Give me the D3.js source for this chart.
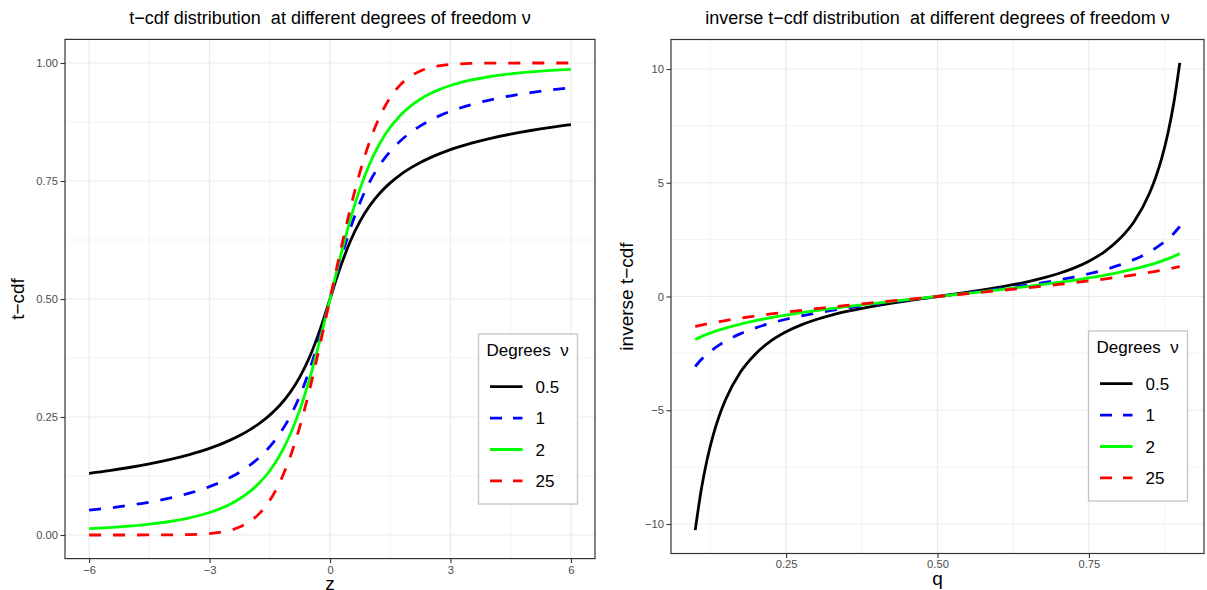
<!DOCTYPE html>
<html>
<head>
<meta charset="utf-8">
<script src="https://cdn.jsdelivr.net/npm/d3@7"></script>
<style>
  html, body { margin: 0; padding: 0; background: #ffffff; }
  svg { display: block; }
  text { font-family: "Liberation Sans", Arial, Helvetica, sans-serif; }
</style>
</head>
<body>
<svg id="chart" width="1207" height="590"></svg>
<script>
// ---- data -----------------------------------------------------------------
// degrees of freedom shown in both panels
const degrees = ["0.5", "1", "2", "25"];
const seriesColors = ["#000000", "#0000FF", "#00FF00", "#FF0000"];
const seriesDashed = [false, true, false, true];

// left panel: z grid and t-cdf values per degree of freedom
const zValues = [-6, -5.5, -5, -4.5, -4, -3.5, -3, -2.75, -2.5, -2.25, -2, -1.75, -1.5, -1.25, -1, -0.75, -0.5, -0.25,
  0, 0.25, 0.5, 0.75, 1, 1.25, 1.5, 1.75, 2, 2.25, 2.5, 2.75, 3, 3.5, 4, 4.5, 5, 5.5, 6];
const cdfNu05 = [0.1307, 0.1364, 0.1430, 0.1506, 0.1596, 0.1704, 0.1836, 0.1915, 0.2005, 0.2108, 0.2228, 0.2369, 0.2540, 0.2749, 0.3011, 0.3349, 0.3787, 0.4346,
  0.5, 0.5654, 0.6213, 0.6651, 0.6989, 0.7251, 0.7460, 0.7631, 0.7772, 0.7892, 0.7995, 0.8085, 0.8164, 0.8296, 0.8404, 0.8494, 0.8570, 0.8636, 0.8693];
const cdfNu1 = [0.0526, 0.0572, 0.0628, 0.0696, 0.0780, 0.0886, 0.1024, 0.1110, 0.1211, 0.1331, 0.1476, 0.1652, 0.1872, 0.2148, 0.2500, 0.2952, 0.3524, 0.4220,
  0.5, 0.5780, 0.6476, 0.7048, 0.7500, 0.7852, 0.8128, 0.8348, 0.8524, 0.8669, 0.8789, 0.8890, 0.8976, 0.9114, 0.9220, 0.9304, 0.9372, 0.9428, 0.9474];
const cdfNu2 = [0.0133, 0.0157, 0.0189, 0.0230, 0.0286, 0.0364, 0.0477, 0.0553, 0.0648, 0.0767, 0.0918, 0.1111, 0.1362, 0.1689, 0.2113, 0.2657, 0.3333, 0.4130,
  0.5, 0.5870, 0.6667, 0.7343, 0.7887, 0.8311, 0.8638, 0.8889, 0.9082, 0.9233, 0.9352, 0.9447, 0.9523, 0.9636, 0.9714, 0.9770, 0.9811, 0.9843, 0.9867];
const cdfNu25 = [0.0000, 0.0000, 0.0000, 0.0001, 0.0003, 0.0009, 0.0031, 0.0056, 0.0098, 0.0169, 0.0284, 0.0463, 0.0732, 0.1115, 0.1635, 0.2301, 0.3107, 0.4023,
  0.5, 0.5977, 0.6893, 0.7699, 0.8365, 0.8885, 0.9268, 0.9537, 0.9716, 0.9831, 0.9902, 0.9944, 0.9969, 0.9991, 0.9997, 0.9999, 1.0000, 1.0000, 1.0000];

// right panel: probability grid and quantiles per degree of freedom
const qValues = [0.10, 0.11, 0.12, 0.13, 0.14, 0.15, 0.175, 0.20, 0.225, 0.25, 0.275, 0.30, 0.325, 0.35, 0.375, 0.40, 0.425, 0.45, 0.475,
  0.50, 0.525, 0.55, 0.575, 0.60, 0.625, 0.65, 0.675, 0.70, 0.725, 0.75, 0.775, 0.80, 0.825, 0.85, 0.86, 0.87, 0.88, 0.89, 0.90];
const invNu05 = [-10.27, -8.482, -7.121, -6.061, -5.219, -4.538, -3.31, -2.513, -1.955, -1.553, -1.249, -1.011, -0.818, -0.656, -0.519, -0.399, -0.289, -0.1895, -0.0933,
  0, 0.0933, 0.1895, 0.289, 0.399, 0.519, 0.656, 0.818, 1.011, 1.249, 1.553, 1.955, 2.513, 3.31, 4.538, 5.219, 6.061, 7.121, 8.482, 10.27];
const invNu1 = [-3.0777, -2.7725, -2.5257, -2.3109, -2.1251, -1.9626, -1.6319, -1.3764, -1.1708, -1.0, -0.8541, -0.7265, -0.6128, -0.5095, -0.4142, -0.3249, -0.2401, -0.1584, -0.0787,
  0, 0.0787, 0.1584, 0.2401, 0.3249, 0.4142, 0.5095, 0.6128, 0.7265, 0.8541, 1.0, 1.1708, 1.3764, 1.6319, 1.9626, 2.1251, 2.3109, 2.5257, 2.7725, 3.0777];
const invNu2 = [-1.8856, -1.7627, -1.6537, -1.5559, -1.4673, -1.3862, -1.2096, -1.0607, -0.9313, -0.8165, -0.7126, -0.6172, -0.5284, -0.4448, -0.3651, -0.2887, -0.2146, -0.1421, -0.0708,
  0, 0.0708, 0.1421, 0.2146, 0.2887, 0.3651, 0.4448, 0.5284, 0.6172, 0.7126, 0.8165, 0.9313, 1.0607, 1.2096, 1.3862, 1.4673, 1.5559, 1.6537, 1.7627, 1.8856];
const invNu25 = [-1.3163, -1.2580, -1.2036, -1.1525, -1.1043, -1.0584, -0.9525, -0.8563, -0.7675, -0.6845, -0.6060, -0.5312, -0.4593, -0.3898, -0.3222, -0.2561, -0.1911, -0.1270, -0.0634,
  0, 0.0634, 0.1270, 0.1911, 0.2561, 0.3222, 0.3898, 0.4593, 0.5312, 0.6060, 0.6845, 0.7675, 0.8563, 0.9525, 1.0584, 1.1043, 1.1525, 1.2036, 1.2580, 1.3163];

// axis ticks and labels
const leftXTicks = [-6, -3, 0, 3, 6];
const leftXMinor = [-4.5, -1.5, 1.5, 4.5];
const leftYTicks = [0, 0.25, 0.5, 0.75, 1];
const leftYMinor = [0.125, 0.375, 0.625, 0.875];
const leftYLabels = ["0.00", "0.25", "0.50", "0.75", "1.00"];
const rightXTicks = [0.25, 0.5, 0.75];
const rightXMinor = [0.125, 0.375, 0.625, 0.875];
const rightXLabels = ["0.25", "0.50", "0.75"];
const rightYTicks = [-10, -5, 0, 5, 10];
const rightYMinor = [-7.5, -2.5, 2.5, 7.5];

// ---- drawing --------------------------------------------------------------
const svg = d3.select("#chart");
const fmtMinus = v => String(v).replace("-", "\u2212");

function drawPanel(cfg) {
  const x = d3.scaleLinear().domain(cfg.xDomain).range([cfg.x0, cfg.x1]);
  const y = d3.scaleLinear().domain(cfg.yDomain).range([cfg.y1, cfg.y0]);
  const g = svg.append("g");

  // background
  g.append("rect").attr("x", cfg.x0).attr("y", cfg.y0)
    .attr("width", cfg.x1 - cfg.x0).attr("height", cfg.y1 - cfg.y0).attr("fill", "#ffffff");

  // minor and major grid
  const grid = g.append("g").attr("stroke", "#EBEBEB").attr("fill", "none");
  cfg.xMinor.forEach(v => grid.append("line").attr("x1", x(v)).attr("x2", x(v))
    .attr("y1", cfg.y0).attr("y2", cfg.y1).attr("stroke-width", 0.6));
  cfg.yMinor.forEach(v => grid.append("line").attr("y1", y(v)).attr("y2", y(v))
    .attr("x1", cfg.x0).attr("x2", cfg.x1).attr("stroke-width", 0.6));
  cfg.xTicks.forEach(v => grid.append("line").attr("x1", x(v)).attr("x2", x(v))
    .attr("y1", cfg.y0).attr("y2", cfg.y1).attr("stroke-width", 1.2));
  cfg.yTicks.forEach(v => grid.append("line").attr("y1", y(v)).attr("y2", y(v))
    .attr("x1", cfg.x0).attr("x2", cfg.x1).attr("stroke-width", 1.2));

  // curves
  const line = d3.line().x(d => x(d[0])).y(d => y(d[1])).curve(d3.curveMonotoneX);
  cfg.series.forEach((vals, i) => {
    const pts = cfg.xs.map((xv, k) => [xv, vals[k]]);
    g.append("path").datum(pts)
      .attr("d", line)
      .attr("fill", "none")
      .attr("stroke", seriesColors[i])
      .attr("stroke-width", 2.8)
      .attr("stroke-linejoin", "round")
      .attr("stroke-dasharray", seriesDashed[i] ? "12 12" : null);
  });

  // panel border
  g.append("rect").attr("x", cfg.x0).attr("y", cfg.y0)
    .attr("width", cfg.x1 - cfg.x0).attr("height", cfg.y1 - cfg.y0)
    .attr("fill", "none").attr("stroke", "#333333").attr("stroke-width", 1.2);

  // axes
  const xAxis = d3.axisBottom(x).tickValues(cfg.xTicks).tickSize(4.5).tickPadding(2.5)
    .tickFormat((d, i) => cfg.xLabels[i]);
  const yAxis = d3.axisLeft(y).tickValues(cfg.yTicks).tickSize(4.5).tickPadding(2.5)
    .tickFormat((d, i) => cfg.yLabels[i]);
  const ax = g.append("g").attr("transform", `translate(0,${cfg.y1})`).call(xAxis);
  const ay = g.append("g").attr("transform", `translate(${cfg.x0},0)`).call(yAxis);
  [ax, ay].forEach(a => {
    a.select(".domain").remove();
    a.selectAll(".tick line").attr("stroke", "#333333").attr("stroke-width", 1.1);
    a.selectAll(".tick text").attr("fill", "#4D4D4D").attr("font-size", 11.2)
      .attr("font-family", "Liberation Sans, Arial, sans-serif");
  });

  // titles
  const cx = (cfg.x0 + cfg.x1) / 2, cy = (cfg.y0 + cfg.y1) / 2;
  g.append("text").attr("x", cx).attr("y", 24).attr("text-anchor", "middle")
    .attr("font-size", 18).attr("fill", "#000").style("white-space", "pre").text(cfg.title);
  g.append("text").attr("x", cx).attr("y", cfg.xTitleY).attr("text-anchor", "middle")
    .attr("font-size", 19).attr("fill", "#000").text(cfg.xTitle);
  g.append("text").attr("transform", `translate(${cfg.yTitleX},${cy}) rotate(-90)`)
    .attr("text-anchor", "middle").attr("font-size", 19).attr("fill", "#000").text(cfg.yTitle);

  // legend
  const lg = g.append("g").attr("transform", `translate(${cfg.legendX},${cfg.legendY})`);
  lg.append("rect").attr("x", 0).attr("y", 0).attr("width", 99).attr("height", 170)
    .attr("fill", "#ffffff").attr("stroke", "#C4C4C4").attr("stroke-width", 1.3);
  lg.append("text").attr("x", 8).attr("y", 22).attr("font-size", 17).style("white-space", "pre")
    .text("Degrees  \u03BD");
  degrees.forEach((d, i) => {
    const ry = 52.7 + i * 31.4;
    lg.append("line").attr("x1", 11.5).attr("x2", 44).attr("y1", ry).attr("y2", ry)
      .attr("stroke", seriesColors[i]).attr("stroke-width", 2.8)
      .attr("stroke-dasharray", seriesDashed[i] ? "12 11" : null);
    lg.append("text").attr("x", 57).attr("y", ry + 6).attr("font-size", 17).text(d);
  });
}

drawPanel({
  x0: 65, x1: 595, y0: 39.4, y1: 558.6,
  xDomain: [-6.6, 6.6], yDomain: [-0.05, 1.05],
  xs: zValues, series: [cdfNu05, cdfNu1, cdfNu2, cdfNu25],
  xTicks: leftXTicks, xMinor: leftXMinor, xLabels: leftXTicks.map(fmtMinus),
  yTicks: leftYTicks, yMinor: leftYMinor, yLabels: leftYLabels,
  title: "t\u2212cdf distribution  at different degrees of freedom \u03BD",
  xTitle: "z", yTitle: "t\u2212cdf", xTitleY: 590, yTitleX: 24,
  legendX: 478.5, legendY: 334
});

drawPanel({
  x0: 671, x1: 1204, y0: 39.5, y1: 553.5,
  xDomain: [0.06, 0.94], yDomain: [-11.297, 11.297],
  xs: qValues, series: [invNu05, invNu1, invNu2, invNu25],
  xTicks: rightXTicks, xMinor: rightXMinor, xLabels: rightXLabels,
  yTicks: rightYTicks, yMinor: rightYMinor, yLabels: rightYTicks.map(fmtMinus),
  title: "inverse t\u2212cdf distribution  at different degrees of freedom \u03BD",
  xTitle: "q", yTitle: "inverse t\u2212cdf", xTitleY: 584.5, yTitleX: 633,
  legendX: 1088.5, legendY: 331
});
</script>
</body>
</html>
